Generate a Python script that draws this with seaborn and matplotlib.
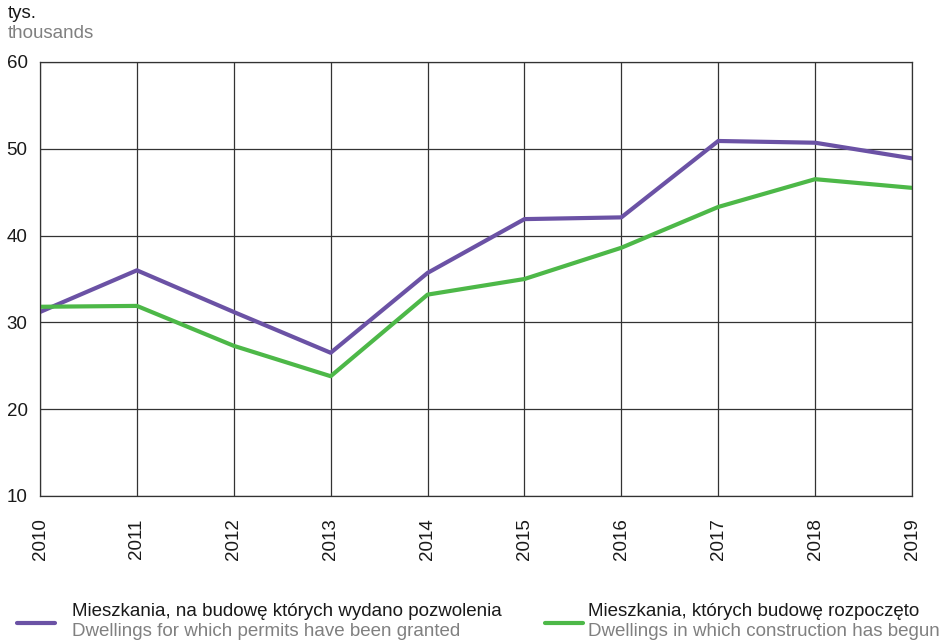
import pandas as pd
import numpy as np
import matplotlib
matplotlib.use('Agg')
import matplotlib.pyplot as plt
from matplotlib.lines import Line2D
import seaborn as sns

years = [2010, 2011, 2012, 2013, 2014, 2015, 2016, 2017, 2018, 2019]
permits = [31.2, 36.0, 31.2, 26.5, 35.7, 41.9, 42.1, 50.9, 50.7, 48.9]
started = [31.8, 31.9, 27.3, 23.8, 33.2, 35.0, 38.6, 43.3, 46.5, 45.5]

label_pl = ['Mieszkania, na budowę których wydano pozwolenia',
            'Mieszkania, których budowę rozpoczęto']
label_en = ['Dwellings for which permits have been granted',
            'Dwellings in which construction has begun']
colors = ['#6B52A5', '#4DB848']
y_ticks = [10, 20, 30, 40, 50, 60]

df = pd.DataFrame({
    'year': years * 2,
    'value': permits + started,
    'series': [label_pl[0]] * len(years) + [label_pl[1]] * len(years),
})

sns.set_style('white')
plt.rcParams['font.family'] = ['Liberation Sans', 'DejaVu Sans']
fs = 13.5

fig = plt.figure(figsize=(9.44, 6.4), dpi=100)
ax = fig.add_axes([40 / 944, 1 - 496 / 640, 872 / 944, 434 / 640])

sns.lineplot(data=df, x='year', y='value', hue='series', palette=colors,
             linewidth=3, ax=ax, legend=False)

ax.set_xlim(years[0], years[-1])
ax.set_ylim(10, 60)
ax.set_xticks(years)
ax.set_xticklabels([str(y) for y in years], rotation=90, va='top')
ax.set_yticks(y_ticks)
ax.set_xlabel('')
ax.set_ylabel('')
ax.grid(True, color='#333333', linewidth=0.9)
ax.set_axisbelow(True)
for s in ax.spines.values():
    s.set_color('#333333')
    s.set_linewidth(0.9)
ax.tick_params(axis='x', length=0, pad=16, labelsize=fs, colors='#1a1a1a')
ax.tick_params(axis='y', length=0, pad=9, labelsize=fs, colors='#1a1a1a')

# unit label
fig.text(8 / 944, 1 - 14 / 640, 'tys.', fontsize=fs, color='#1a1a1a', va='center')
fig.text(8 / 944, 1 - 34 / 640, 'thousands', fontsize=fs, color='#808080', va='center')

# legend
for i, (x0, tx) in enumerate([(17, 72), (545, 588)]):
    fig.add_artist(Line2D([x0 / 944, (x0 + 38) / 944], [1 - 623 / 640] * 2,
                          color=colors[i], linewidth=3, transform=fig.transFigure))
    fig.text(tx / 944, 1 - 612 / 640, label_pl[i], fontsize=fs,
             color='#1a1a1a', va='center')
    fig.text(tx / 944, 1 - 632 / 640, label_en[i], fontsize=fs,
             color='#808080', va='center')

fig.savefig('out.png', dpi=100)
